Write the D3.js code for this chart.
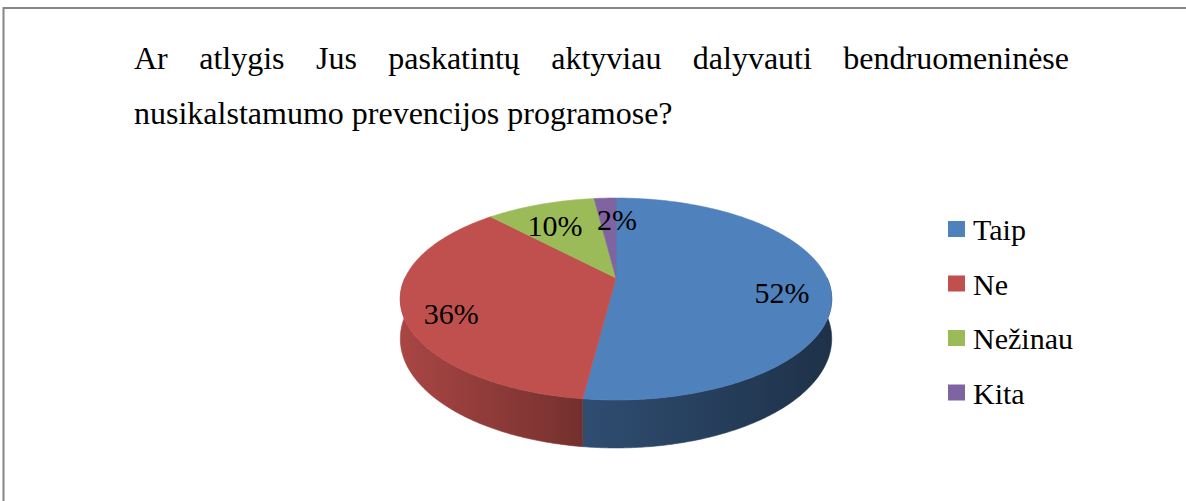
<!DOCTYPE html>
<html>
<head>
<meta charset="utf-8">
<script src="https://cdn.jsdelivr.net/npm/d3@7"></script>
<style>
  html, body { margin: 0; padding: 0; background: #fff; }
  svg { display: block; }
</style>
</head>
<body>
<svg id="chart" width="1186" height="501"></svg>
<script>
// data
const categories = ["Taip", "Ne", "Nežinau", "Kita"];
const values = [52, 36, 10, 2];
const colors = ["#4F81BD", "#C0504D", "#9BBB59", "#8064A2"];
const titleLines = [
    "Ar atlygis Jus paskatintų aktyviau dalyvauti bendruomeninėse",
    "nusikalstamumo prevencijos programose?"
];

const FONT = "Liberation Serif";
const svg = d3.select("#chart");

// frame
svg.append("path")
    .attr("d", "M3.5,501 L3.5,8 L1186,8")
    .attr("fill", "none")
    .attr("stroke", "#868686")
    .attr("stroke-width", 2);

// title, first line justified
const titleLeft = 134, titleRight = 1069;
const title = svg.append("g").attr("class", "title")
    .attr("font-family", FONT)
    .attr("font-size", 32)
    .attr("fill", "#000");

const words = titleLines[0].split(" ");
const wordNodes = words.map(w => title.append("text").attr("y", 69).text(w));
const widths = wordNodes.map(n => n.node().getComputedTextLength());
const gap = (titleRight - titleLeft - d3.sum(widths)) / (words.length - 1);
let xPos = titleLeft;
wordNodes.forEach((n, i) => {
    n.attr("x", xPos);
    xPos += widths[i] + gap;
});
title.append("text").attr("x", titleLeft).attr("y", 124).text(titleLines[1]);

// 3D pie geometry (simple perspective projection)
const cx = 616, cy = 278;   // projected centre
const rx = 211, ry = 96.6;  // radii before perspective
const persp = 0.208;        // perspective strength
const depth = 38;           // thickness

function project(angle, r, h) {
    const X = r * Math.sin(angle);
    const Z = -r * Math.cos(angle);  // positive = toward viewer
    const w = 1 - persp * Z;
    return [cx + rx * X / w, cy + (ry * Z + h) / w];
}

function arcPoints(a0, a1, r, h) {
    const n = Math.max(2, Math.ceil((a1 - a0) / 0.01));
    return d3.range(n + 1).map(i => project(a0 + (a1 - a0) * i / n, r, h));
}

const pie = d3.pie().sort(null).value(d => d)(values);
const line = d3.line();

const defs = svg.append("defs");
const gPie = svg.append("g").attr("class", "pie");

// side walls (front half only)
const shadeStops = [[400, 0.88], [585, 0.60], [832, 0.38]];
pie.forEach((d, i) => {
    const a0 = Math.max(d.startAngle, Math.PI / 2);
    const a1 = Math.min(d.endAngle, Math.PI * 1.5);
    if (a1 <= a0) return;
    const base = d3.rgb(colors[i]);
    const grad = defs.append("linearGradient")
        .attr("id", `side-${i}`)
        .attr("gradientUnits", "userSpaceOnUse")
        .attr("x1", 400).attr("x2", 832).attr("y1", 0).attr("y2", 0);
    shadeStops.forEach(([x, f]) => {
        grad.append("stop")
            .attr("offset", (x - 400) / 432)
            .attr("stop-color", d3.rgb(base.r * f, base.g * f, base.b * f));
    });
    const top = arcPoints(a0, a1, 1, 0);
    const bottom = arcPoints(a0, a1, 1, depth).reverse();
    gPie.append("path")
        .attr("d", line(top.concat(bottom)) + "Z")
        .attr("fill", `url(#side-${i})`)
        .attr("stroke", `url(#side-${i})`)
        .attr("stroke-width", 0.6);
});

// top faces
pie.forEach((d, i) => {
    const pts = [project(0, 0, 0)].concat(arcPoints(d.startAngle, d.endAngle, 1, 0));
    gPie.append("path")
        .attr("d", line(pts) + "Z")
        .attr("fill", colors[i])
        .attr("stroke", colors[i])
        .attr("stroke-width", 0.6);
});

// data labels
pie.forEach((d, i) => {
    const mid = (d.startAngle + d.endAngle) / 2;
    const [x, y] = project(mid, 0.78, 20);
    svg.append("text")
        .attr("x", i === 3 ? x + 10 : x)
        .attr("y", y)
        .attr("text-anchor", "middle")
        .attr("font-family", FONT)
        .attr("font-size", 30)
        .text(values[i] + "%");
});

// legend
const legend = svg.append("g").attr("class", "legend")
    .selectAll("g").data(categories).enter().append("g")
    .attr("transform", (d, i) => `translate(948,${240 + i * 54.5})`);

legend.append("rect")
    .attr("x", 0).attr("y", -19)
    .attr("width", 17).attr("height", 16)
    .attr("fill", (d, i) => colors[i]);

legend.append("text")
    .attr("x", 25).attr("y", 0)
    .attr("font-family", FONT)
    .attr("font-size", 30)
    .text(d => d);
</script>
</body>
</html>
